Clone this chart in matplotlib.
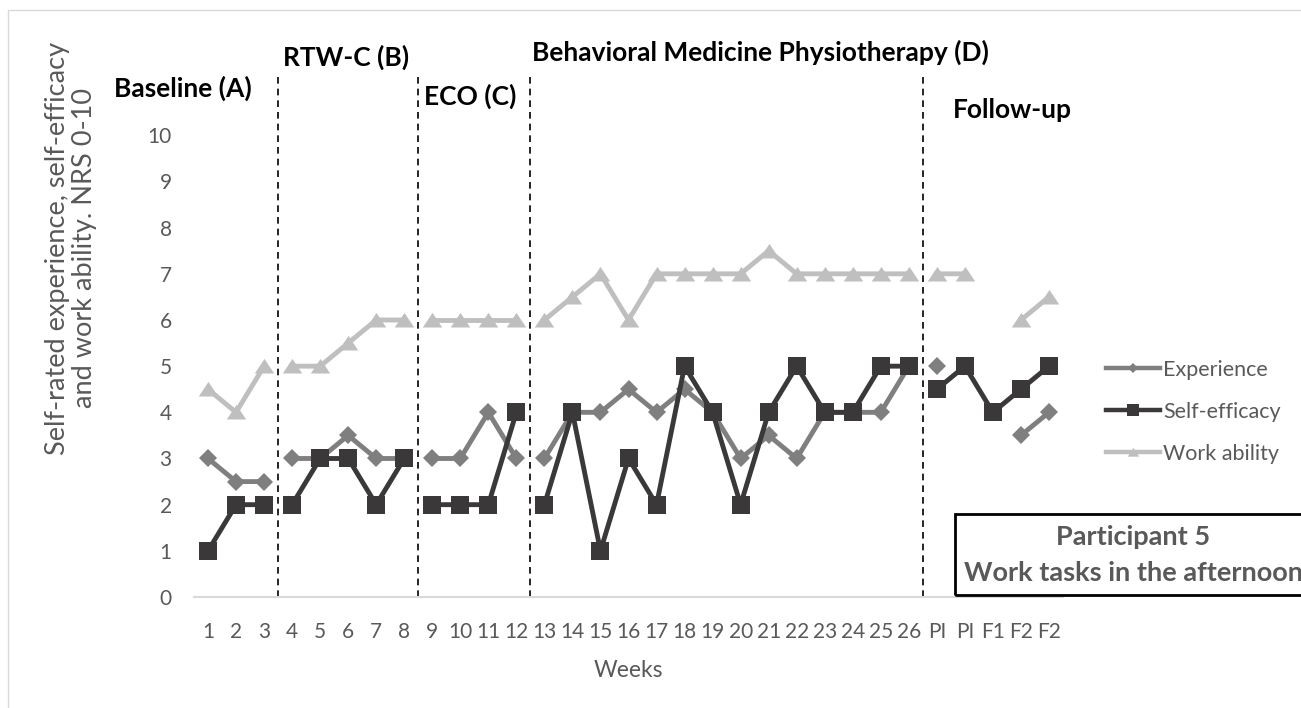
import numpy as np
import matplotlib.pyplot as plt
from matplotlib.patches import Rectangle
from matplotlib.lines import Line2D

plt.rcParams['font.family'] = ['Lato', 'DejaVu Sans']

nan = np.nan

weeks = ['1', '2', '3', '4', '5', '6', '7', '8', '9', '10', '11', '12', '13',
         '14', '15', '16', '17', '18', '19', '20', '21', '22', '23', '24', '25',
         '26', 'PI', 'PI', 'F1', 'F2', 'F2']

experience = [3, 2.5, 2.5, 3, 3, 3.5, 3, 3, 3, 3, 4, 3, 3, 4, 4, 4.5, 4, 4.5,
              4, 3, 3.5, 3, 4, 4, 4, 5, 5, nan, nan, 3.5, 4]
self_efficacy = [1, 2, 2, 2, 3, 3, 2, 3, 2, 2, 2, 4, 2, 4, 1, 3, 2, 5, 4, 2,
                 4, 5, 4, 4, 5, 5, 4.5, 5, 4, 4.5, 5]
work_ability = [4.5, 4, 5, 5, 5, 5.5, 6, 6, 6, 6, 6, 6, 6, 6.5, 7, 6, 7, 7, 7,
                7, 7.5, 7, 7, 7, 7, 7, 7, 7, nan, 6, 6.5]

# number of weeks in each phase: A, B, C, D, follow-up
phase_lengths = [3, 5, 4, 14, 5]

W, H = 1301, 708
fig = plt.figure(figsize=(W / 100, H / 100), dpi=100)


def px(x, y):
    return x / W, 1 - y / H


ax = fig.add_axes([194 / W, 1 - 597 / H, (1063 - 194) / W, (597 - 73) / H])

tri = [(-1, -0.72), (1, -0.72), (0, 0.78)]
series = [
    ('Experience', experience, '#7f7f7f', dict(marker='D', markersize=9)),
    ('Self-efficacy', self_efficacy, '#3a3838', dict(marker='s', markersize=13.5)),
    ('Work ability', work_ability, '#bfbfbf', dict(marker=tri, markersize=14)),
]

x = np.arange(len(weeks))
bounds = np.cumsum([0] + phase_lengths)
for i, (name, vals, col, mk) in enumerate(series):
    vals = np.array(vals, dtype=float)
    for s, e in zip(bounds[:-1], bounds[1:]):
        ax.plot(x[s:e], vals[s:e], color=col, lw=3.5, markeredgewidth=0,
                zorder=3 + i, **mk)

handles = [Line2D([], [], color=col, lw=3.2, markeredgewidth=0,
                  marker=mk['marker'], markersize=mk['markersize'] * 0.6)
           for name, vals, col, mk in series]
leg = ax.legend(handles, [s[0] for s in series], loc='upper left',
                bbox_to_anchor=px(1095, 349), bbox_transform=fig.transFigure,
                frameon=False, fontsize=15.5, handlelength=2.5,
                handletextpad=0.15, labelspacing=1.02, borderpad=0)
for t in leg.get_texts():
    t.set_color('#595959')

for b in bounds[1:-1]:
    ax.axvline(b - 0.5, color='black', lw=1.2, dashes=(4, 3), zorder=2)

ax.set_xlim(-0.5, len(weeks) - 0.5)
ax.set_ylim(0, 11.35)
ax.set_yticks(range(0, 11))
ax.set_xticks(x)
ax.set_xticklabels(weeks)
ax.tick_params(length=0, labelsize=15, labelcolor='#595959')
ax.tick_params(axis='y', pad=16)
ax.tick_params(axis='x', pad=18)
for sp in ['top', 'right', 'left']:
    ax.spines[sp].set_visible(False)
ax.spines['bottom'].set_color('#d9d9d9')
ax.spines['bottom'].set_linewidth(1.5)

ax.set_xlabel('Weeks', fontsize=16.5, color='#595959', labelpad=13)
fig.text(*px(71, 248), 'Self-rated experience, self-efficacy\nand work ability. NRS 0-10',
         rotation=90, ha='center', va='center', fontsize=19.5, color='#595959',
         linespacing=1.12)

phase_labels = [
    ('Baseline (A)', 183, 88),
    ('RTW-C (B)', 346, 57),
    ('ECO (C)', 470, 96),
    ('Behavioral Medicine Physiotherapy (D)', 760, 52),
    ('Follow-up', 1012, 110),
]
for txt, lx, ly in phase_labels:
    fig.text(*px(lx, ly), txt, ha='center', va='center', fontsize=19,
             fontweight='bold', color='black')

# outer chart border (cropped at right and bottom)
fig.patches.append(Rectangle(px(8, 760), 2, (760 - 10) / H, fill=False,
                             edgecolor='#d9d9d9', lw=1, transform=fig.transFigure))
fig.patches.append(Rectangle(px(955, 595), (1320 - 955) / W, (595 - 514) / H,
                             fill=False, edgecolor='black', lw=2,
                             transform=fig.transFigure))
fig.text(*px(1133, 537), 'Participant 5', ha='center', va='center',
         fontsize=19.5, fontweight='bold', color='#595959')
fig.text(*px(1133, 573), 'Work tasks in the afternoon', ha='center', va='center',
         fontsize=19.5, fontweight='bold', color='#595959')

fig.savefig('out.png', dpi=100)
